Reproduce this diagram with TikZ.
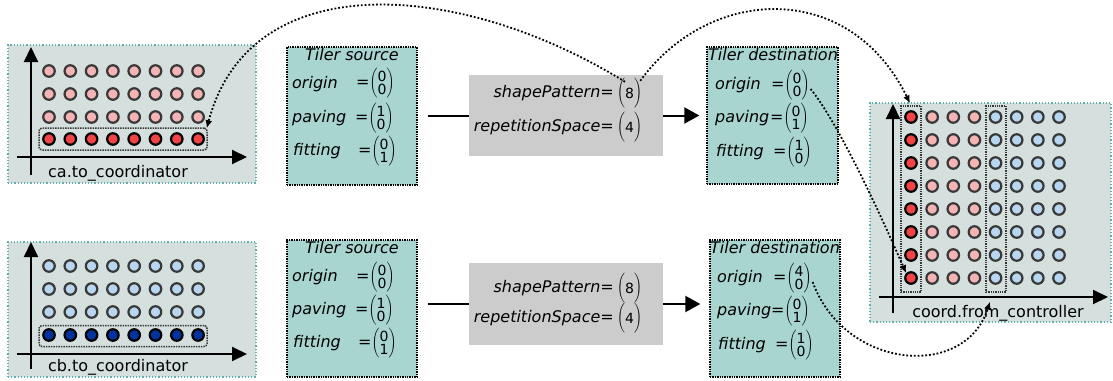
\documentclass[tikz,border=0pt]{standalone}
\usepackage{fontspec}
\setmainfont{DejaVu Sans}
\usetikzlibrary{arrows.meta}
\definecolor{panelfill}{HTML}{D5E0DE}
\definecolor{panelline}{HTML}{5FAFAF}
\definecolor{tilerfill}{HTML}{A8D5D0}
\definecolor{grayfill}{HTML}{CCCCCC}
\definecolor{pinkdot}{HTML}{F4B4B4}
\definecolor{reddot}{HTML}{F24444}
\definecolor{lbluedot}{HTML}{B8D6F0}
\definecolor{dbluedot}{HTML}{0033A0}
\definecolor{dotline}{HTML}{383838}
\newcommand{\cvec}[2]{$\left(\vcenter to 27pt{\offinterlineskip\vss\hbox to 9pt{\hss\fontsize{14}{14}\selectfont #1\hss}\vskip 2pt\hbox to 9pt{\hss\fontsize{14}{14}\selectfont #2\hss}\vss}\right)$}
\newcommand{\svec}[1]{$\left(\vcenter to 27pt{\offinterlineskip\vss\hbox to 9pt{\hss\fontsize{14}{14}\selectfont #1\hss}\vss}\right)$}
\begin{document}
\begin{tikzpicture}[x=1pt,y=-1pt,
  font=\fontsize{16}{19}\selectfont,
  panel/.style={draw=panelline, fill=panelfill, dotted, line width=1.2pt, inner sep=0pt},
  tiler/.style={draw=black, fill=tilerfill, densely dotted, line width=1.4pt, inner sep=0pt},
  graybox/.style={fill=grayfill, inner sep=0pt},
  txt/.style={inner sep=0pt},
  lbl/.style={inner sep=0pt, anchor=west, font=\fontsize{16}{19}\selectfont\itshape},
  val/.style={inner sep=0pt, anchor=west},
  axis/.style={line width=2pt, -{Triangle[length=15pt,width=14pt]}},
  pinkd/.style={circle, draw=dotline, fill=pinkdot, line width=2.2pt, minimum size=11.5pt, inner sep=0pt},
  redd/.style={circle, draw=black, fill=reddot, line width=2.2pt, minimum size=11.5pt, inner sep=0pt},
  lblued/.style={circle, draw=dotline, fill=lbluedot, line width=2.2pt, minimum size=11.5pt, inner sep=0pt},
  dblued/.style={circle, draw=black, fill=dbluedot, line width=2.2pt, minimum size=11.5pt, inner sep=0pt},
  rowbox/.style={draw=dotline, densely dotted, line width=1.5pt, rounded corners=3pt, inner sep=0pt},
  colbox/.style={draw=dotline, densely dotted, line width=1.3pt, inner sep=0pt},
  link/.style={line width=2pt},
  dlink/.style={dotted, line width=1.8pt, -{Latex[length=8pt,width=7pt]}}
]
\useasboundingbox (0,0) rectangle (1113,380);

% ---------- panel A ----------
\node[panel, minimum width=248pt, minimum height=138pt] (pa) at (132,114) {};
\draw[axis] (31,175) coordinate (pay0) -- (31,47) coordinate (pay1);
\draw[axis] (17,157) coordinate (pax0) -- (247,157) coordinate (pax1);
\foreach \i in {1,...,8}{
  \pgfmathsetmacro{\xx}{49+21.3*(\i-1)}
  \foreach \j/\yy in {1/139,2/117,3/94,4/71}{
    \ifnum\j=1
      \node[redd] (a-\i-\j) at (\xx,\yy) {};
    \else
      \node[pinkd] (a-\i-\j) at (\xx,\yy) {};
    \fi
  }
}
\node[rowbox, minimum width=168pt, minimum height=22pt] (abox) at (123,139) {};
\node[txt] (alab) at (118,173) {ca.to\_coordinator};

% ---------- panel B ----------
\node[panel, minimum width=248pt, minimum height=135pt] (pb) at (132,309.5) {};
\draw[axis] (31,369) coordinate (pby0) -- (31,242) coordinate (pby1);
\draw[axis] (17,354) coordinate (pbx0) -- (247,354) coordinate (pbx1);
\foreach \i in {1,...,8}{
  \pgfmathsetmacro{\xx}{49+21.3*(\i-1)}
  \foreach \j/\yy in {1/335,2/312,3/289,4/266}{
    \ifnum\j=1
      \node[dblued] (b-\i-\j) at (\xx,\yy) {};
    \else
      \node[lblued] (b-\i-\j) at (\xx,\yy) {};
    \fi
  }
}
\node[rowbox, minimum width=168pt, minimum height=21pt] (bbox) at (123,336) {};
\node[txt] (blab) at (118,367) {cb.to\_coordinator};

% ---------- tiler source 1 ----------
\node[tiler, minimum width=130pt, minimum height=138pt] (src1) at (352,116) {};
\node[txt, font=\fontsize{16}{19}\selectfont\itshape] (src1t) at (352,55) {Tiler source};
\node[lbl] (src1a) at (292,84) {origin};
\node[val] (src1av) at (356,83) {=\cvec{0}{0}};
\node[lbl] (src1b) at (292,118) {paving};
\node[val] (src1bv) at (355,118) {=\cvec{1}{0}};
\node[lbl] (src1c) at (293,151) {fitting};
\node[val] (src1cv) at (358,151) {=\cvec{0}{1}};

% ---------- tiler source 2 ----------
\node[tiler, minimum width=130pt, minimum height=137pt] (src2) at (352,308.5) {};
\node[txt, font=\fontsize{16}{19}\selectfont\itshape] (src2t) at (352,248) {Tiler source};
\node[lbl] (src2a) at (292,277) {origin};
\node[val] (src2av) at (356,277) {=\cvec{0}{0}};
\node[lbl] (src2b) at (292,310) {paving};
\node[val] (src2bv) at (355,310) {=\cvec{1}{0}};
\node[lbl] (src2c) at (293,343) {fitting};
\node[val] (src2cv) at (358,343) {=\cvec{0}{1}};

% ---------- gray boxes ----------
\node[graybox, minimum width=194pt, minimum height=81pt] (g1) at (566,115.5) {};
\node[txt, anchor=east, font=\fontsize{16}{19}\selectfont\itshape] (sp1) at (614,93) {shapePattern=};
\node[val] (sp1v) at (617,93) {\svec{8}};
\node[txt, anchor=east, font=\fontsize{16}{19}\selectfont\itshape] (rs1) at (614,127) {repetitionSpace=};
\node[val] (rs1v) at (617,127) {\svec{4}};

\node[graybox, minimum width=194pt, minimum height=82pt] (g2) at (566,304) {};
\node[txt, anchor=east, font=\fontsize{16}{19}\selectfont\itshape] (sp2) at (614,288) {shapePattern=};
\node[val] (sp2v) at (617,288) {\svec{8}};
\node[txt, anchor=east, font=\fontsize{16}{19}\selectfont\itshape] (rs2) at (614,318) {repetitionSpace=};
\node[val] (rs2v) at (617,318) {\svec{4}};

% ---------- tiler destination 1 ----------
\node[tiler, minimum width=131pt, minimum height=137pt] (dst1) at (772.5,115.5) {};
\node[txt, font=\fontsize{16}{19}\selectfont\itshape] (dst1t) at (773,55) {Tiler destination};
\node[lbl] (dst1a) at (715,85) {origin};
\node[val] (dst1av) at (771,85) {=\cvec{0}{0}};
\node[lbl] (dst1b) at (715,118) {paving};
\node[val] (dst1bv) at (770,118) {=\cvec{0}{1}};
\node[lbl] (dst1c) at (716,152) {fitting};
\node[val] (dst1cv) at (773,152) {=\cvec{1}{0}};

% ---------- tiler destination 2 ----------
\node[tiler, minimum width=130pt, minimum height=137pt] (dst2) at (775,308.5) {};
\node[txt, font=\fontsize{16}{19}\selectfont\itshape] (dst2t) at (775,248) {Tiler destination};
\node[lbl] (dst2a) at (717,278) {origin};
\node[val] (dst2av) at (773,278) {=\cvec{4}{0}};
\node[lbl] (dst2b) at (717,311) {paving};
\node[val] (dst2bv) at (771,311) {=\cvec{0}{1}};
\node[lbl] (dst2c) at (718,345) {fitting};
\node[val] (dst2cv) at (775,345) {=\cvec{1}{0}};

% ---------- coord panel ----------
\node[panel, minimum width=241pt, minimum height=219pt] (pc) at (990.5,212.5) {};
\draw[axis] (893,313) coordinate (pcy0) -- (893,104) coordinate (pcy1);
\draw[axis] (879,297) coordinate (pcx0) -- (1108,297) coordinate (pcx1);
\foreach \i in {1,...,8}{
  \pgfmathsetmacro{\xx}{911+21.14*(\i-1)}
  \foreach \k in {1,...,8}{
    \pgfmathsetmacro{\yy}{278-23*(\k-1)}
    \ifnum\i=1
      \node[redd] (c-\i-\k) at (\xx,\yy) {};
    \else\ifnum\i<5
      \node[pinkd] (c-\i-\k) at (\xx,\yy) {};
    \else
      \node[lblued] (c-\i-\k) at (\xx,\yy) {};
    \fi\fi
  }
}
\node[colbox, minimum width=20pt, minimum height=186pt] (cbox1) at (911,199) {};
\node[colbox, minimum width=20pt, minimum height=186pt] (cbox5) at (996,199) {};
\node[txt] (clab) at (998,313) {coord.from\_controller};

% ---------- connectors ----------
\draw[link, shorten <=10pt] (src1.east |- g1.west) -- (g1.west);
\draw[link, -{Triangle[length=15pt,width=16pt]}, shorten >=7pt] (g1.east) -- (g1.east -| dst1.west);
\draw[link, shorten <=10pt] (src2.east |- g2.west) -- (g2.west);
\draw[link, -{Triangle[length=15pt,width=16pt]}, shorten >=9pt] (g2.east) -- (g2.east -| dst2.west);

% ---------- dotted curves ----------
\draw[dlink] ([xshift=8pt,yshift=-4pt]sp1v.north west) .. controls (460,-20) and (250,-35) .. ([xshift=-1pt,yshift=-1pt]abox.north east);
\draw[dlink] ([xshift=-2pt,yshift=-3pt]sp1v.north east) .. controls (710,-15) and (850,-20) .. ([xshift=-1pt,yshift=2pt]cbox1.north);
\draw[dlink] ([xshift=1pt,yshift=-4pt]dst1av.east) .. controls (840,125) and (885,225) .. (c-1-1.north west);
\draw[dlink] ([xshift=1pt,yshift=-4pt]dst2av.east) .. controls (845,370) and (965,380) .. ([xshift=-6pt,yshift=-9pt]cbox5.south);
\end{tikzpicture}
\end{document}
